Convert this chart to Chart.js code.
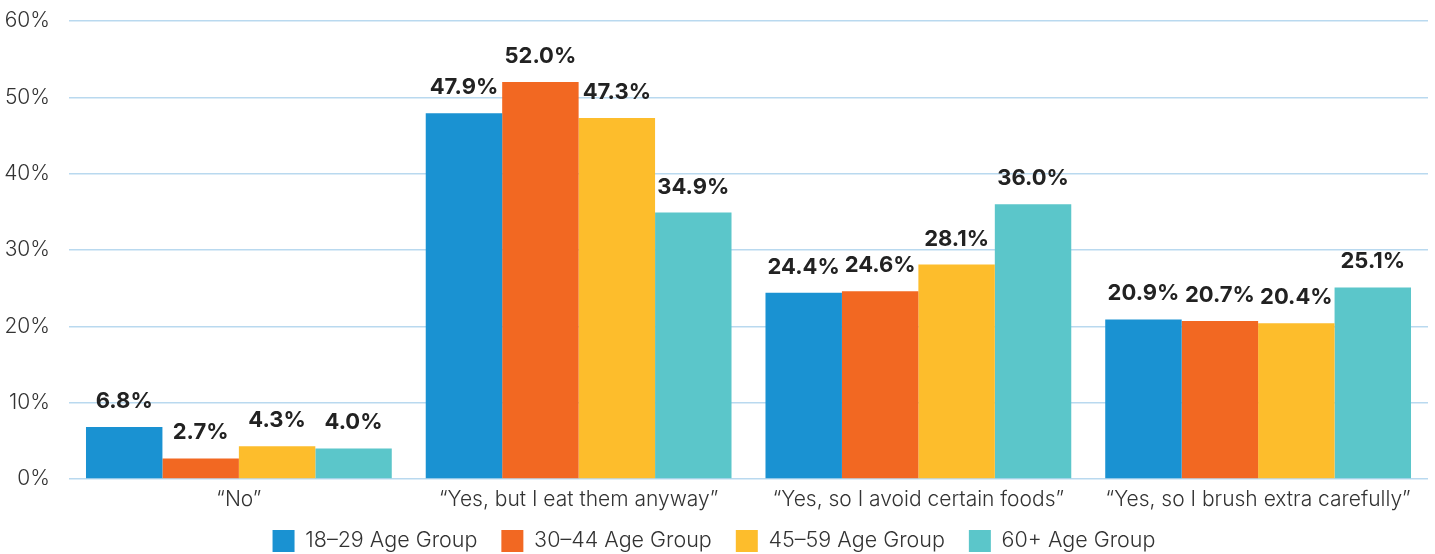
<!DOCTYPE html>
<html><head><meta charset="utf-8">
<script src="https://cdn.jsdelivr.net/npm/chart.js@4/dist/chart.umd.min.js"></script>
<style>html,body{margin:0;padding:0;background:#fff;}#wrap{width:1435px;height:554px;}</style>
</head><body><div id="wrap"><canvas id="c" width="1435" height="554"></canvas></div>
<script>
const categories = ['\u201CNo\u201D', '\u201CYes, but I eat them anyway\u201D', '\u201CYes, so I avoid certain foods\u201D', '\u201CYes, so I brush extra carefully\u201D'];
const seriesNames = ['18\u201329 Age Group', '30\u201344 Age Group', '45\u201359 Age Group', '60+ Age Group'];
const age18_29 = [6.8, 47.9, 24.4, 20.9];
const age30_44 = [2.7, 52.0, 24.6, 20.7];
const age45_59 = [4.3, 47.3, 28.1, 20.4];
const age60plus = [4.0, 34.9, 36.0, 25.1];
const yTicks = [0, 10, 20, 30, 40, 50, 60];
const colors = ['#1a92d2', '#f26822', '#fdbd2c', '#5bc6ca'];
const FONT = 'Inter, "Open Sans", sans-serif';

const valueLabels = {
  id: 'valueLabels',
  afterDatasetsDraw(chart) {
    const ctx = chart.ctx;
    ctx.save();
    ctx.font = 'bold 22px ' + FONT;
    ctx.fillStyle = '#222';
    ctx.textAlign = 'center';
    ctx.textBaseline = 'alphabetic';
    chart.data.datasets.forEach((ds, i) => {
      chart.getDatasetMeta(i).data.forEach((bar, j) => {
        ctx.fillText(ds.data[j].toFixed(1) + '%', bar.x, bar.y - 19);
      });
    });
    ctx.restore();
  }
};

const legendShift = {
  id: 'legendShift',
  afterLayout(chart) {
    if (chart.legend) { chart.legend.top -= 7; chart.legend.bottom -= 7; }
  }
};

new Chart(document.getElementById('c'), {
  type: 'bar',
  data: {
    labels: categories,
    datasets: [age18_29, age30_44, age45_59, age60plus].map((d, i) => ({
      label: seriesNames[i], data: d, backgroundColor: colors[i],
      barPercentage: 1.0, categoryPercentage: 0.9, borderWidth: 0
    }))
  },
  options: {
    responsive: false, animation: false,
    layout: { padding: { left: 0, right: 7, top: 21, bottom: -15 } },
    plugins: {
      legend: {
        position: 'bottom',
        labels: { boxWidth: 22, boxHeight: 22, color: '#333', font: { family: FONT, size: 21.5, weight: 300 }, padding: 24 }
      },
      tooltip: { enabled: false }
    },
    scales: {
      x: {
        grid: { display: false },
        border: { display: false },
        ticks: { color: '#333', font: { family: FONT, size: 21, weight: 300 }, padding: 0 },
        afterFit(scale) { scale.height = 34; }
      },
      y: {
        min: 0, max: 60,
        afterBuildTicks(scale) { scale.ticks = yTicks.map(v => ({ value: v })); },
        grid: { color: '#b9d9ef', lineWidth: 1.5, drawTicks: false },
        border: { display: false },
        ticks: { color: '#333', font: { family: FONT, size: 21, weight: 300 }, padding: 19, callback: v => v + '%' },
        afterFit(scale) { scale.width = 69; scale.paddingTop = 0; scale.paddingBottom = 0; }
      }
    }
  },
  plugins: [valueLabels, legendShift]
});
</script></body></html>
